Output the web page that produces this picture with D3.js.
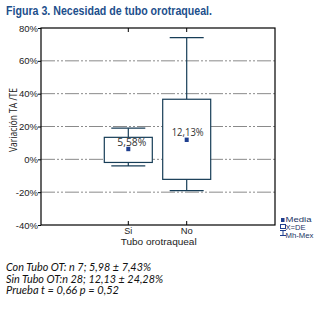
<!DOCTYPE html>
<html><head><meta charset="utf-8">
<script src="https://cdn.jsdelivr.net/npm/d3@7"></script>
<style>body{margin:0;background:#fff}svg{display:block}</style>
</head><body><div id="c"></div>
<script>
const categories = ["Si", "No"];
const meanValues = [6.3, 11.9];
const meanLabels = ["5,58%", "12,13%"];
const boxLow = [-1.9, -12.2];
const boxHigh = [13.4, 36.6];
const whiskerMin = [-4, -19.1];
const whiskerMax = [19, 74.1];
const yTicks = [-40, -20, 0, 20, 40, 60, 80];
const legendItems = ["Media", "X=DE", "Mh-Mex"];
const captionLines = ["Con Tubo OT: n  7; 5,98 ± 7,43%", "Sin Tubo OT:n  28; 12,13 ± 24,28%", "Prueba t = 0,66 p = 0,52"];

const W = 332, H = 309;
const svg = d3.select("#c").append("svg").attr("width", W).attr("height", H);
const L = 41, R = 275, T = 28, B = 225;
const y = d3.scaleLinear().domain([-40, 80]).range([B, T]);
const x = d3.scalePoint().domain(categories).range([128.3, 186.7]);
const boxC = "#173d57";
const humanist = "Open Sans, Noto Sans, sans-serif";
const sans = "Liberation Sans, Arial, sans-serif";

function fit(sel, w) { sel.attr("textLength", w).attr("lengthAdjust", "spacingAndGlyphs"); return sel; }

fit(svg.append("text").attr("x", 6).attr("y", 15).text("Figura 3. Necesidad de tubo orotraqueal.")
  .attr("font-family", sans).attr("font-weight", "bold")
  .attr("font-size", 12.5).attr("fill", "#1d4f8c"), 206);

// gridlines
svg.append("g").selectAll("line").data(yTicks.filter(t => t > -40 && t < 80)).join("line")
  .attr("x1", L).attr("x2", R).attr("y1", d => y(d)).attr("y2", d => y(d))
  .attr("stroke", "#8a8a8a").attr("stroke-width", 1).attr("stroke-dasharray", "14,2,2,2,2,2");

// y axis
const ya = d3.axisLeft(y).tickValues(yTicks).tickFormat(d => d + "%").tickSize(3).tickSizeOuter(0);
const gy = svg.append("g").attr("transform", `translate(${L},0)`).call(ya);
gy.select(".domain").remove();
gy.selectAll("line").attr("stroke", "#000");
gy.selectAll("text").attr("font-family", sans).attr("font-size", 9.5).attr("fill", "#222").attr("x", -3);

// frame
svg.append("rect").attr("x", L).attr("y", T).attr("width", R - L).attr("height", B - T)
  .attr("fill", "none").attr("stroke", "#000").attr("stroke-width", 1.2);

// top & bottom ticks
categories.forEach(c => {
  svg.append("line").attr("x1", x(c)).attr("x2", x(c)).attr("y1", T).attr("y2", T + 4).attr("stroke", "#000");
  svg.append("line").attr("x1", x(c)).attr("x2", x(c)).attr("y1", B).attr("y2", B - 4).attr("stroke", "#000");
});

// boxes
const g = svg.append("g");
const labelW = [29, 32];
const labelDx = [3.5, 1];
const labelBase = [145.7, 136];
const catW = [8, 12];
categories.forEach((c, i) => {
  const cx = x(c);
  g.append("line").attr("x1", cx).attr("x2", cx).attr("y1", y(whiskerMax[i])).attr("y2", y(boxHigh[i])).attr("stroke", boxC).attr("stroke-width", 1.2);
  g.append("line").attr("x1", cx).attr("x2", cx).attr("y1", y(boxLow[i])).attr("y2", y(whiskerMin[i])).attr("stroke", boxC).attr("stroke-width", 1.2);
  [whiskerMax[i], whiskerMin[i]].forEach(v => g.append("line").attr("x1", cx - 17).attr("x2", cx + 17)
    .attr("y1", y(v)).attr("y2", y(v)).attr("stroke", boxC).attr("stroke-width", 1.2));
  g.append("rect").attr("x", cx - 24).attr("y", y(boxHigh[i])).attr("width", 48).attr("height", y(boxLow[i]) - y(boxHigh[i]))
    .attr("fill", "#fff").attr("stroke", boxC).attr("stroke-width", 1.2);
  fit(g.append("text").attr("x", cx + labelDx[i] - labelW[i] / 2).attr("y", labelBase[i])
    .text(meanLabels[i]).attr("font-family", humanist).attr("font-size", 10.5).attr("fill", "#333"), labelW[i]);
  g.append("rect").attr("x", cx - 2).attr("y", y(meanValues[i]) - 2.2).attr("width", 4).attr("height", 4.4).attr("fill", "#1f3f8f");
  fit(svg.append("text").attr("x", cx - catW[i] / 2).attr("y", 234.3).text(c)
    .attr("font-family", sans).attr("font-size", 9.5).attr("fill", "#222"), catW[i]);
});

fit(svg.append("text").attr("x", 120.7).attr("y", 245.3).text("Tubo orotraqueal")
  .attr("font-family", sans).attr("font-size", 9.5).attr("fill", "#222"), 76);

fit(svg.append("text").attr("transform", "translate(17,152) rotate(-90)").text("Variación TA /TE")
  .attr("font-family", humanist).attr("font-size", 10.5).attr("fill", "#222"), 64);

// legend
const lg = svg.append("g");
const lc = "#1f3f8f";
lg.append("rect").attr("x", 281).attr("y", 218).attr("width", 3.5).attr("height", 4).attr("fill", lc);
lg.append("rect").attr("x", 280.5).attr("y", 224.5).attr("width", 5).attr("height", 4).attr("fill", "none").attr("stroke", lc);
lg.append("line").attr("x1", 280).attr("x2", 286).attr("y1", 230.5).attr("y2", 230.5).attr("stroke", lc);
lg.append("line").attr("x1", 280).attr("x2", 286).attr("y1", 235.5).attr("y2", 235.5).attr("stroke", lc);
lg.append("line").attr("x1", 283).attr("x2", 283).attr("y1", 230.5).attr("y2", 235.5).attr("stroke", lc);
const legW = [26, 20, 28];
lg.selectAll("text.l").data(legendItems).join("text").attr("x", 285.5).attr("y", (d, i) => 221.5 + i * 8).text(d => d)
  .attr("font-family", sans).attr("font-size", 7).attr("fill", "#1a3566")
  .attr("textLength", (d, i) => legW[i]).attr("lengthAdjust", "spacingAndGlyphs");

// caption
const capW = [145, 157, 113];
svg.append("g").selectAll("text").data(captionLines).join("text").attr("x", 6).attr("y", (d, i) => 271 + i * 11.5).text(d => d)
  .attr("font-family", "Lato, Open Sans, sans-serif").attr("font-style", "italic")
  .attr("font-size", 11).attr("fill", "#111")
  .attr("textLength", (d, i) => capW[i]).attr("lengthAdjust", "spacingAndGlyphs");
</script></body></html>
